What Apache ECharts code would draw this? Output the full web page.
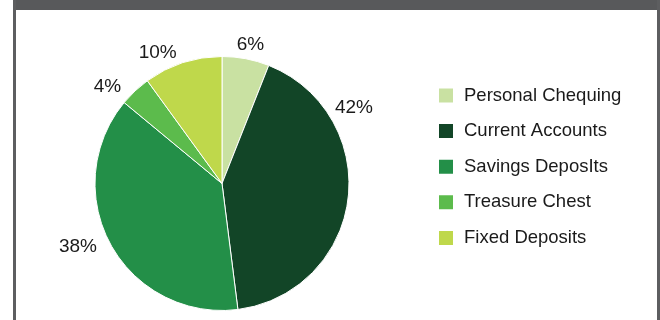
<!DOCTYPE html>
<html>
<head>
<meta charset="utf-8">
<style>
html,body{margin:0;padding:0;background:#fff;}
#chart{width:660px;height:320px;}
</style>
<script src="https://cdn.jsdelivr.net/npm/echarts@6/dist/echarts.min.js"></script>
</head>
<body>
<div id="chart"></div>
<script>
const categories = ['Personal Chequing', 'Current Accounts', 'Savings DeposIts', 'Treasure Chest', 'Fixed Deposits'];
const values = [6, 42, 38, 4, 10];
const colors = ['#c9e1a2', '#124527', '#238f48', '#5cbb4c', '#bfd84b'];
// label nudges (style only)
const labelShift = [[-16, -4], [-28, -93], [0, -3], [-2, 3], [2, 0]];

const chart = echarts.init(document.getElementById('chart'), null, {renderer: 'canvas'});
const FONT = '"Liberation Sans", Arial, Helvetica, sans-serif';

chart.setOption({
  animation: false,
  backgroundColor: '#ffffff',
  legend: {
    orient: 'vertical',
    left: 437,
    top: 86,
    padding: 0,
    itemWidth: 16,
    itemHeight: 16,
    itemGap: 16.6,
    icon: 'rect',
    textStyle: {fontFamily: FONT, fontSize: 18.5, color: '#1a1a1a', lineHeight: 16, padding: [0, 0, 0, 5]},
    data: categories
  },
  graphic: [
    {type: 'rect', shape: {x: 13, y: 0, width: 647, height: 10}, style: {fill: '#58595b'}, silent: true},
    {type: 'rect', shape: {x: 13, y: 0, width: 3, height: 320}, style: {fill: '#5d5e60'}, silent: true},
    {type: 'rect', shape: {x: 657, y: 0, width: 3, height: 320}, style: {fill: '#5d5e60'}, silent: true}
  ],
  series: [{
    type: 'pie',
    center: [222, 183.5],
    radius: [0, 127],
    startAngle: 90,
    clockwise: true,
    avoidLabelOverlap: false,
    itemStyle: {borderColor: '#ffffff', borderWidth: 1},
    label: {
      show: true,
      position: 'outside',
      formatter: '{c}%',
      fontFamily: FONT,
      fontSize: 19,
      color: '#1a1a1a'
    },
    labelLine: {show: false, length: 10, length2: 0},
    labelLayout: function (p) {
      const s = labelShift[p.dataIndex];
      return {dx: s[0], dy: s[1]};
    },
    emphasis: {disabled: true},
    data: categories.map((n, i) => ({name: n, value: values[i], itemStyle: {color: colors[i]}}))
  }]
});
</script>
</body>
</html>
